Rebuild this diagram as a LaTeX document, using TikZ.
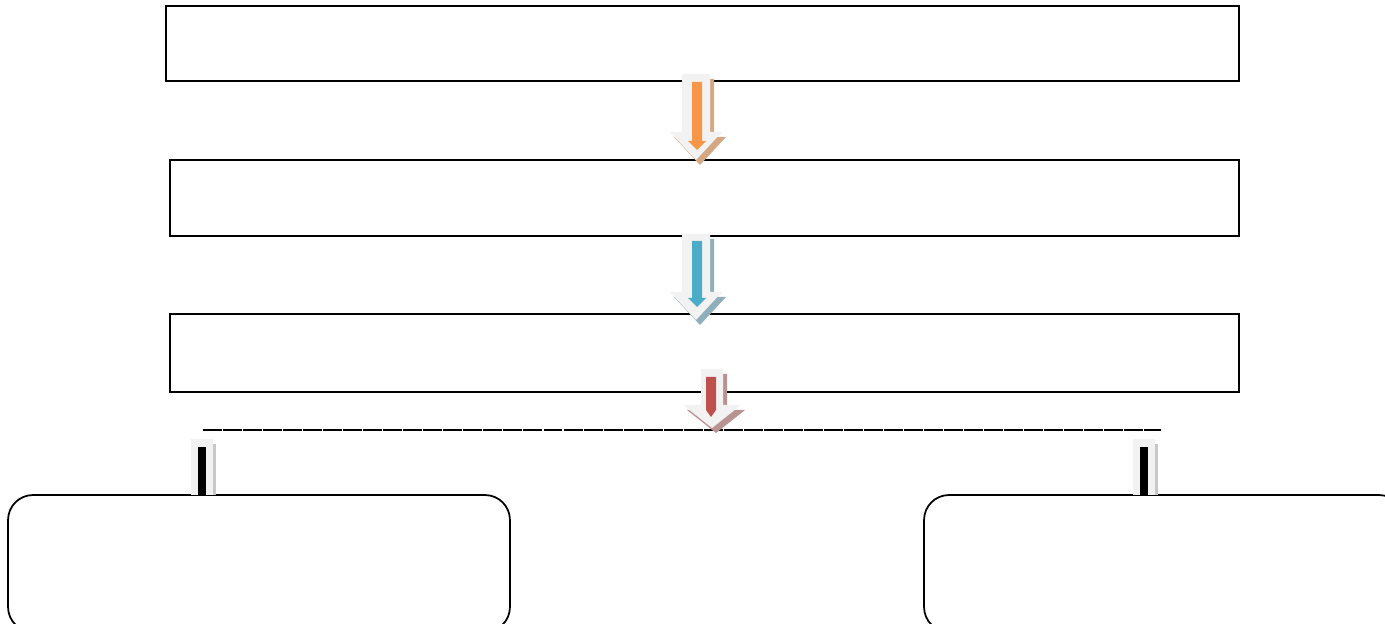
\documentclass[tikz,border=0pt]{standalone}
\usepackage{tikz}

\definecolor{arrgray}{HTML}{F2F2F2}
\definecolor{arrorange}{HTML}{F79646}
\definecolor{arrblue}{HTML}{4BACC6}
\definecolor{arrred}{HTML}{C0504D}
\definecolor{shdorange}{HTML}{D4A882}
\definecolor{shdblue}{HTML}{8FB0BB}
\definecolor{shdred}{HTML}{B99392}
\definecolor{shdgray}{HTML}{C8C8C8}

% block arrow: centre x, top, start of head, tip, half shaft, half head, fill
\newcommand{\blockarrow}[7]{%
  \fill[#7] (#1-#5,#2) -- (#1+#5,#2) -- (#1+#5,#3) -- (#1+#6,#3) -- (#1,#4)
    -- (#1-#6,#3) -- (#1-#5,#3) -- cycle;}

\begin{document}
\begin{tikzpicture}
  [x=0.02cm,y=-0.02cm,
   every node/.style={draw=black,line width=1pt,fill=white,inner sep=0pt},
   plainbox/.style={rectangle},
   roundbox/.style={rectangle,rounded corners=0.5cm,minimum height=2.74cm}]
  \useasboundingbox (0,0) rectangle (1385,624);
  \clip (0,0) rectangle (1385,624);

  \node[plainbox,minimum width=21.46cm,minimum height=1.5cm] (b1) at (702.5,43.5) {};
  \node[plainbox,minimum width=21.38cm,minimum height=1.52cm] (b2) at (704.5,198) {};
  \node[plainbox,minimum width=21.38cm,minimum height=1.56cm] (b3) at (704.5,353) {};
  \node[roundbox,minimum width=10.04cm] (l1) at (259,563.5) {};
  \node[roundbox,minimum width=9.6cm] (r1) at (1164,563.5) {};

  % dashed rule
  \coordinate (lineL) at (203,430);
  \coordinate (lineR) at (1161,430);
  \draw[line width=1.2pt,dash pattern=on 10.8pt off 0.6pt] (lineL) -- (lineR);

  % orange arrow b1 -> b2
  \blockarrow{700}{79}{137}{165}{14}{26}{shdorange}
  \blockarrow{696}{74}{132}{160}{14}{26}{arrgray}
  \blockarrow{697}{82}{141}{150}{5}{9}{arrorange}

  % blue arrow b2 -> b3
  \blockarrow{700}{239}{297}{325}{14}{26}{shdblue}
  \blockarrow{696}{234}{292}{320}{14}{26}{arrgray}
  \blockarrow{697}{241}{298}{307}{5}{9}{arrblue}

  % red arrow b3 -> rule
  \blockarrow{716}{374}{410}{433}{11}{29}{shdred}
  \blockarrow{712}{369}{405}{428}{11}{29}{arrgray}
  \blockarrow{711}{377}{410}{417}{5}{5}{arrred}

  % bars down to the lower boxes
  \foreach \bx in {191,1133}{
    \fill[shdgray] (\bx+22,444) rectangle (\bx+25,495);
    \fill[arrgray] (\bx,439) rectangle (\bx+22,495);
    \fill[black] (\bx+7,447) rectangle (\bx+15,495);
  }
\end{tikzpicture}
\end{document}
